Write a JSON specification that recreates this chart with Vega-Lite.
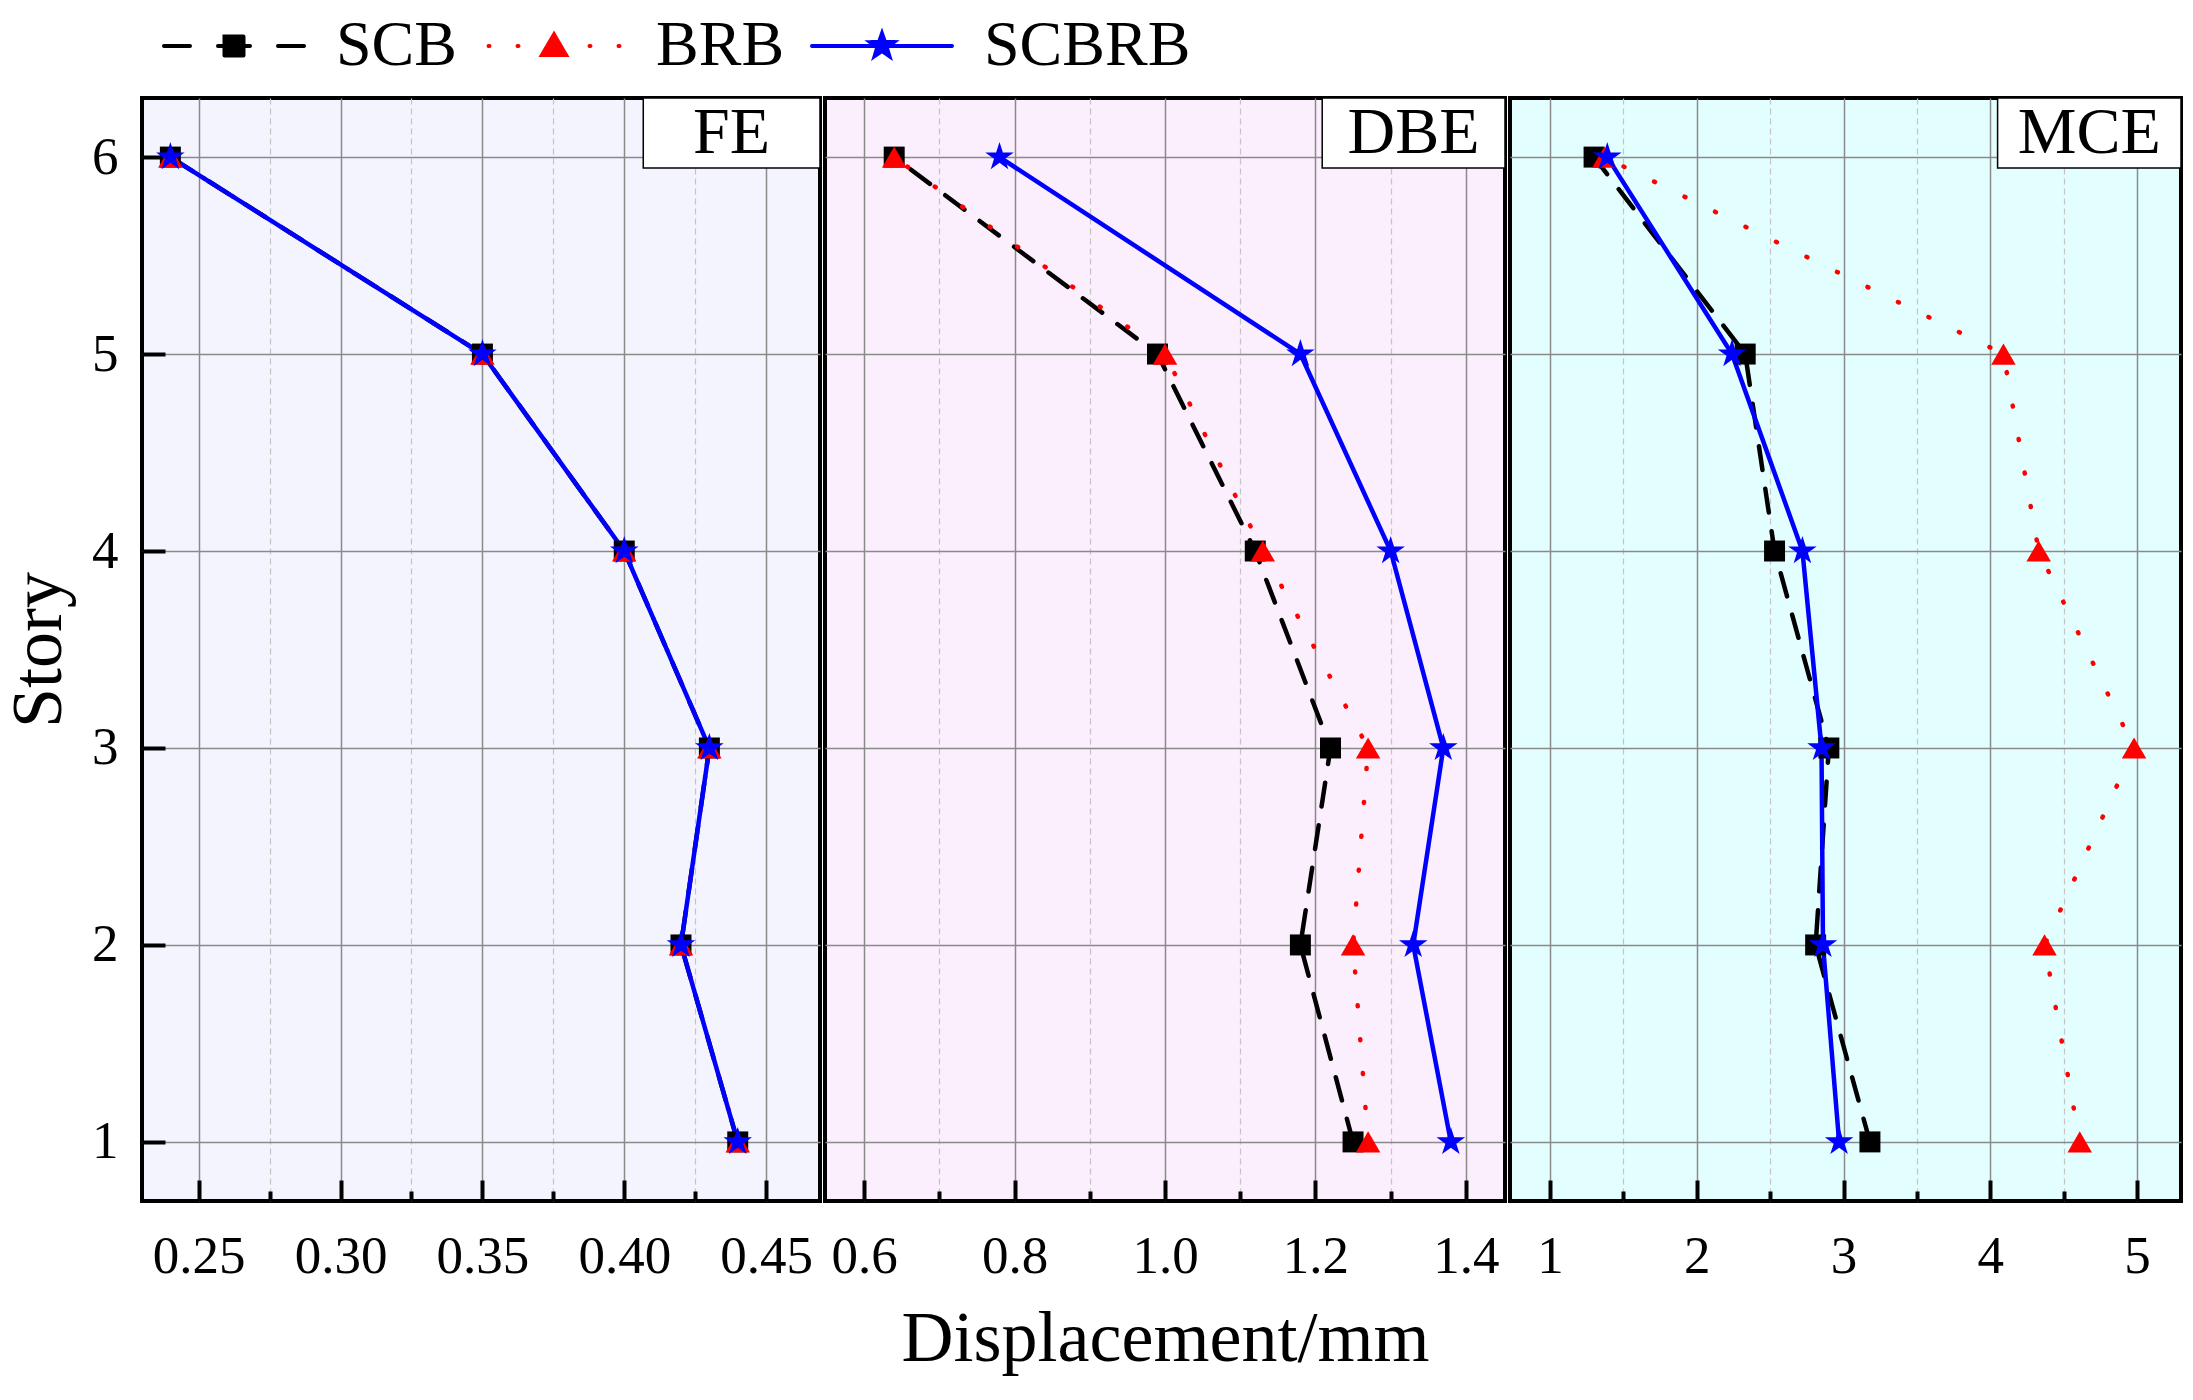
{
  "$schema": "https://vega.github.io/schema/vega-lite/v6.json",
  "background": "white",
  "padding": {"top": 14, "left": 0, "right": 20, "bottom": 10},
  "config": {
    "font": "Liberation Serif",
    "view": {"stroke": "black", "strokeWidth": 4},
    "axis": {
      "labelFont": "Liberation Serif",
      "labelFontSize": 53,
      "labelColor": "black",
      "titleFont": "Liberation Serif",
      "titleFontSize": 72,
      "titleFontWeight": "normal",
      "titleColor": "black",
      "gridColor": "#8a8a8a",
      "gridWidth": 1.5,
      "tickColor": "black",
      "tickWidth": 4,
      "domain": false,
      "labelFlush": false,
      "labelOverlap": false
    },
    "legend": {
      "labelFont": "Liberation Serif",
      "labelFontSize": 64,
      "labelColor": "black",
      "labelLimit": 0
    }
  },
  "data": {
    "values": [
      {"panel": "FE", "series": "SCB", "story": 6, "disp": 0.24},
      {"panel": "FE", "series": "SCB", "story": 5, "disp": 0.35},
      {"panel": "FE", "series": "SCB", "story": 4, "disp": 0.40},
      {"panel": "FE", "series": "SCB", "story": 3, "disp": 0.43},
      {"panel": "FE", "series": "SCB", "story": 2, "disp": 0.42},
      {"panel": "FE", "series": "SCB", "story": 1, "disp": 0.44},
      {"panel": "FE", "series": "BRB", "story": 6, "disp": 0.24},
      {"panel": "FE", "series": "BRB", "story": 5, "disp": 0.35},
      {"panel": "FE", "series": "BRB", "story": 4, "disp": 0.40},
      {"panel": "FE", "series": "BRB", "story": 3, "disp": 0.43},
      {"panel": "FE", "series": "BRB", "story": 2, "disp": 0.42},
      {"panel": "FE", "series": "BRB", "story": 1, "disp": 0.44},
      {"panel": "FE", "series": "SCBRB", "story": 6, "disp": 0.24},
      {"panel": "FE", "series": "SCBRB", "story": 5, "disp": 0.35},
      {"panel": "FE", "series": "SCBRB", "story": 4, "disp": 0.40},
      {"panel": "FE", "series": "SCBRB", "story": 3, "disp": 0.43},
      {"panel": "FE", "series": "SCBRB", "story": 2, "disp": 0.42},
      {"panel": "FE", "series": "SCBRB", "story": 1, "disp": 0.44},
      {"panel": "DBE", "series": "SCB", "story": 6, "disp": 0.64},
      {"panel": "DBE", "series": "SCB", "story": 5, "disp": 0.99},
      {"panel": "DBE", "series": "SCB", "story": 4, "disp": 1.12},
      {"panel": "DBE", "series": "SCB", "story": 3, "disp": 1.22},
      {"panel": "DBE", "series": "SCB", "story": 2, "disp": 1.18},
      {"panel": "DBE", "series": "SCB", "story": 1, "disp": 1.25},
      {"panel": "DBE", "series": "BRB", "story": 6, "disp": 0.64},
      {"panel": "DBE", "series": "BRB", "story": 5, "disp": 1.00},
      {"panel": "DBE", "series": "BRB", "story": 4, "disp": 1.13},
      {"panel": "DBE", "series": "BRB", "story": 3, "disp": 1.27},
      {"panel": "DBE", "series": "BRB", "story": 2, "disp": 1.25},
      {"panel": "DBE", "series": "BRB", "story": 1, "disp": 1.27},
      {"panel": "DBE", "series": "SCBRB", "story": 6, "disp": 0.78},
      {"panel": "DBE", "series": "SCBRB", "story": 5, "disp": 1.18},
      {"panel": "DBE", "series": "SCBRB", "story": 4, "disp": 1.30},
      {"panel": "DBE", "series": "SCBRB", "story": 3, "disp": 1.37},
      {"panel": "DBE", "series": "SCBRB", "story": 2, "disp": 1.33},
      {"panel": "DBE", "series": "SCBRB", "story": 1, "disp": 1.38},
      {"panel": "MCE", "series": "SCB", "story": 6, "disp": 1.30},
      {"panel": "MCE", "series": "SCB", "story": 5, "disp": 2.33},
      {"panel": "MCE", "series": "SCB", "story": 4, "disp": 2.53},
      {"panel": "MCE", "series": "SCB", "story": 3, "disp": 2.90},
      {"panel": "MCE", "series": "SCB", "story": 2, "disp": 2.81},
      {"panel": "MCE", "series": "SCB", "story": 1, "disp": 3.18},
      {"panel": "MCE", "series": "BRB", "story": 6, "disp": 1.37},
      {"panel": "MCE", "series": "BRB", "story": 5, "disp": 4.09},
      {"panel": "MCE", "series": "BRB", "story": 4, "disp": 4.33},
      {"panel": "MCE", "series": "BRB", "story": 3, "disp": 4.98},
      {"panel": "MCE", "series": "BRB", "story": 2, "disp": 4.37},
      {"panel": "MCE", "series": "BRB", "story": 1, "disp": 4.61},
      {"panel": "MCE", "series": "SCBRB", "story": 6, "disp": 1.39},
      {"panel": "MCE", "series": "SCBRB", "story": 5, "disp": 2.24},
      {"panel": "MCE", "series": "SCBRB", "story": 4, "disp": 2.72},
      {"panel": "MCE", "series": "SCBRB", "story": 3, "disp": 2.85},
      {"panel": "MCE", "series": "SCBRB", "story": 2, "disp": 2.86},
      {"panel": "MCE", "series": "SCBRB", "story": 1, "disp": 2.97}
    ]
  },
  "spacing": 0,
  "hconcat": [
    {
      "width": 678,
      "height": 1103,
      "view": {"fill": "#f3f4fe", "stroke": "black", "strokeWidth": 4},
      "layer": [
        {"transform": [{"filter": "datum.panel === 'FE' && datum.series === 'SCB'"}],
         "mark": {"type": "line", "strokeWidth": 4.5, "strokeDash": [24, 19], "strokeCap": "round"},
         "encoding": {
           "x": {"field": "disp", "type": "quantitative", "scale": {"domain": [0.23, 0.469], "nice": false, "zero": false},
                 "axis": {"orient": "bottom", "values": [0.25, 0.3, 0.35, 0.4, 0.45], "format": ".2f", "tickSize": -21, "labelPadding": 50, "grid": true, "title": null}},
           "y": {"field": "story", "type": "quantitative", "scale": {"domain": [0.7, 6.3], "nice": false, "zero": false},
                 "axis": {"values": [1, 2, 3, 4, 5, 6], "format": "d", "tickSize": -23, "labelPadding": 47, "titlePadding": 16, "grid": true, "title": "Story"}},
           "order": {"field": "story"},
           "color": {"field": "series", "type": "nominal", "scale": {"domain": ["SCB", "BRB", "SCBRB"], "range": ["black", "red", "blue"]},
                     "legend": {"orient": "top", "direction": "horizontal", "title": null, "offset": 17, "symbolSize": 400, "symbolStrokeWidth": 4, "labelOffset": 130, "columnPadding": 5, "labelLimit": 0,
                       "encode": {"symbols": {"update": {
                         "shape": {"signal": "datum.value === 'SCB' ? 'M-1,0L1.6,0M4.4,0L7.6,0M10.4,0L13,0M5.05,-0.95L6.95,-0.95L6.95,0.95L5.05,0.95Z' : datum.value === 'BRB' ? 'M-0.55,0L-0.45,0M2.35,0L2.45,0M9.55,0L9.65,0M12.45,0L12.55,0M6,-1.15L7.2,0.9L4.8,0.9Z' : 'M-1,0L13,0M6,-1.25L6.294,-0.405L7.189,-0.386L6.476,0.155L6.735,1.011L6,0.5L5.265,1.011L5.524,0.155L4.811,-0.386L5.706,-0.405Z'"},
                         "fill": {"signal": "datum.value === 'SCB' ? 'black' : datum.value === 'BRB' ? 'red' : 'blue'"},
                         "stroke": {"signal": "datum.value === 'SCB' ? 'black' : datum.value === 'BRB' ? 'red' : 'blue'"},
                         "strokeDash": {"value": [1, 0]},
                         "strokeCap": {"value": "round"},
                         "opacity": {"value": 1}
                       }}}}}}},
        {"transform": [{"filter": "datum.panel === 'FE' && datum.series === 'BRB'"}],
         "mark": {"type": "line", "strokeWidth": 4.5, "strokeDash": [1, 33], "strokeCap": "round"},
         "encoding": {
           "x": {"field": "disp", "type": "quantitative", "axis": null},
           "y": {"field": "story", "type": "quantitative", "scale": {"domain": [0.7, 6.3], "nice": false, "zero": false},
                 "axis": {"values": [1, 2, 3, 4, 5, 6], "format": "d", "tickSize": -23, "labelPadding": 47, "titlePadding": 16, "grid": true, "title": "Story"}},
           "order": {"field": "story"}, "color": {"field": "series", "type": "nominal"}}},
        {"transform": [{"filter": "datum.panel === 'FE' && datum.series === 'SCBRB'"}],
         "mark": {"type": "line", "strokeWidth": 4.5, "strokeCap": "round"},
         "encoding": {
           "x": {"field": "disp", "type": "quantitative", "axis": null},
           "y": {"field": "story", "type": "quantitative", "scale": {"domain": [0.7, 6.3], "nice": false, "zero": false},
                 "axis": {"values": [1, 2, 3, 4, 5, 6], "format": "d", "tickSize": -23, "labelPadding": 47, "titlePadding": 16, "grid": true, "title": "Story"}},
           "order": {"field": "story"}, "color": {"field": "series", "type": "nominal"}}},
        {"transform": [{"filter": "datum.panel === 'FE' && datum.series === 'SCB'"}],
         "mark": {"type": "point", "shape": "square", "size": 440, "filled": true, "color": "black", "opacity": 1},
         "encoding": {
           "x": {"field": "disp", "type": "quantitative", "axis": null},
           "y": {"field": "story", "type": "quantitative", "scale": {"domain": [0.7, 6.3], "nice": false, "zero": false},
                 "axis": {"values": [1, 2, 3, 4, 5, 6], "format": "d", "tickSize": -23, "labelPadding": 47, "titlePadding": 16, "grid": true, "title": "Story"}}}},
        {"transform": [{"filter": "datum.panel === 'FE' && datum.series === 'BRB'"}],
         "mark": {"type": "point", "shape": "triangle-up", "size": 600, "filled": true, "color": "red", "opacity": 1},
         "encoding": {
           "x": {"field": "disp", "type": "quantitative", "axis": null},
           "y": {"field": "story", "type": "quantitative", "scale": {"domain": [0.7, 6.3], "nice": false, "zero": false},
                 "axis": {"values": [1, 2, 3, 4, 5, 6], "format": "d", "tickSize": -23, "labelPadding": 47, "titlePadding": 16, "grid": true, "title": "Story"}}}},
        {"transform": [{"filter": "datum.panel === 'FE' && datum.series === 'SCBRB'"}],
         "mark": {"type": "point", "shape": "M0,-1L0.2245,-0.309L0.951,-0.309L0.3633,0.118L0.5878,0.809L0,0.382L-0.5878,0.809L-0.3633,0.118L-0.951,-0.309L-0.2245,-0.309Z", "size": 900, "filled": true, "color": "blue", "opacity": 1},
         "encoding": {
           "x": {"field": "disp", "type": "quantitative", "axis": null},
           "y": {"field": "story", "type": "quantitative", "scale": {"domain": [0.7, 6.3], "nice": false, "zero": false},
                 "axis": {"values": [1, 2, 3, 4, 5, 6], "format": "d", "tickSize": -23, "labelPadding": 47, "titlePadding": 16, "grid": true, "title": "Story"}}}},
        {"data": {"values": [{"label": "FE"}]},
         "mark": {"type": "rect", "fill": "white", "stroke": "black", "strokeWidth": 1.5},
         "encoding": {
           "x": {"datum": 0.4067, "type": "quantitative",
                 "axis": {"orient": "bottom", "values": [0.275, 0.325, 0.375, 0.425], "labels": false, "tickSize": -10, "grid": true, "gridDash": [6, 4], "gridColor": "#c4c4c4", "gridWidth": 1.2, "title": null}},
           "x2": {"datum": 0.469},
           "y": {"datum": 6.3, "type": "quantitative", "scale": {"domain": [0.7, 6.3], "nice": false, "zero": false},
                 "axis": {"values": [1, 2, 3, 4, 5, 6], "format": "d", "tickSize": -23, "labelPadding": 47, "titlePadding": 16, "grid": true, "title": "Story"}},
           "y2": {"datum": 5.944}}},
        {"data": {"values": [{"label": "FE"}]},
         "mark": {"type": "text", "font": "Liberation Serif", "fontSize": 66, "baseline": "middle", "align": "center", "color": "black"},
         "encoding": {
           "x": {"datum": 0.4378, "type": "quantitative", "axis": null},
           "y": {"datum": 6.12, "type": "quantitative", "scale": {"domain": [0.7, 6.3], "nice": false, "zero": false},
                 "axis": {"values": [1, 2, 3, 4, 5, 6], "format": "d", "tickSize": -23, "labelPadding": 47, "titlePadding": 16, "grid": true, "title": "Story"}},
           "text": {"field": "label"}}}
      ],
      "resolve": {"axis": {"x": "independent"}}
    },
    {
      "width": 680,
      "height": 1103,
      "view": {"fill": "#fbeefd", "stroke": "black", "strokeWidth": 4},
      "layer": [
        {"transform": [{"filter": "datum.panel === 'DBE' && datum.series === 'SCB'"}],
         "mark": {"type": "line", "strokeWidth": 4.5, "strokeDash": [24, 19], "strokeCap": "round"},
         "encoding": {
           "x": {"field": "disp", "type": "quantitative", "scale": {"domain": [0.548, 1.452], "nice": false, "zero": false},
                 "axis": {"orient": "bottom", "values": [0.6, 0.8, 1.0, 1.2, 1.4], "format": ".1f", "tickSize": -21, "labelPadding": 50, "grid": true, "title": "Displacement/mm", "titlePadding": 20}},
           "y": {"field": "story", "type": "quantitative", "scale": {"domain": [0.7, 6.3], "nice": false, "zero": false},
                 "axis": {"values": [1, 2, 3, 4, 5, 6], "labels": false, "ticks": false, "grid": true, "title": null}},
           "order": {"field": "story"}, "color": {"field": "series", "type": "nominal"}}},
        {"transform": [{"filter": "datum.panel === 'DBE' && datum.series === 'BRB'"}],
         "mark": {"type": "line", "strokeWidth": 4.5, "strokeDash": [1, 33], "strokeCap": "round"},
         "encoding": {
           "x": {"field": "disp", "type": "quantitative", "axis": null},
           "y": {"field": "story", "type": "quantitative", "scale": {"domain": [0.7, 6.3], "nice": false, "zero": false},
                 "axis": {"values": [1, 2, 3, 4, 5, 6], "labels": false, "ticks": false, "grid": true, "title": null}},
           "order": {"field": "story"}, "color": {"field": "series", "type": "nominal"}}},
        {"transform": [{"filter": "datum.panel === 'DBE' && datum.series === 'SCBRB'"}],
         "mark": {"type": "line", "strokeWidth": 4.5, "strokeCap": "round"},
         "encoding": {
           "x": {"field": "disp", "type": "quantitative", "axis": null},
           "y": {"field": "story", "type": "quantitative", "scale": {"domain": [0.7, 6.3], "nice": false, "zero": false},
                 "axis": {"values": [1, 2, 3, 4, 5, 6], "labels": false, "ticks": false, "grid": true, "title": null}},
           "order": {"field": "story"}, "color": {"field": "series", "type": "nominal"}}},
        {"transform": [{"filter": "datum.panel === 'DBE' && datum.series === 'SCB'"}],
         "mark": {"type": "point", "shape": "square", "size": 440, "filled": true, "color": "black", "opacity": 1},
         "encoding": {
           "x": {"field": "disp", "type": "quantitative", "axis": null},
           "y": {"field": "story", "type": "quantitative", "scale": {"domain": [0.7, 6.3], "nice": false, "zero": false},
                 "axis": {"values": [1, 2, 3, 4, 5, 6], "labels": false, "ticks": false, "grid": true, "title": null}}}},
        {"transform": [{"filter": "datum.panel === 'DBE' && datum.series === 'BRB'"}],
         "mark": {"type": "point", "shape": "triangle-up", "size": 600, "filled": true, "color": "red", "opacity": 1},
         "encoding": {
           "x": {"field": "disp", "type": "quantitative", "axis": null},
           "y": {"field": "story", "type": "quantitative", "scale": {"domain": [0.7, 6.3], "nice": false, "zero": false},
                 "axis": {"values": [1, 2, 3, 4, 5, 6], "labels": false, "ticks": false, "grid": true, "title": null}}}},
        {"transform": [{"filter": "datum.panel === 'DBE' && datum.series === 'SCBRB'"}],
         "mark": {"type": "point", "shape": "M0,-1L0.2245,-0.309L0.951,-0.309L0.3633,0.118L0.5878,0.809L0,0.382L-0.5878,0.809L-0.3633,0.118L-0.951,-0.309L-0.2245,-0.309Z", "size": 900, "filled": true, "color": "blue", "opacity": 1},
         "encoding": {
           "x": {"field": "disp", "type": "quantitative", "axis": null},
           "y": {"field": "story", "type": "quantitative", "scale": {"domain": [0.7, 6.3], "nice": false, "zero": false},
                 "axis": {"values": [1, 2, 3, 4, 5, 6], "labels": false, "ticks": false, "grid": true, "title": null}}}},
        {"data": {"values": [{"label": "DBE"}]},
         "mark": {"type": "rect", "fill": "white", "stroke": "black", "strokeWidth": 1.5},
         "encoding": {
           "x": {"datum": 1.209, "type": "quantitative",
                 "axis": {"orient": "bottom", "values": [0.7, 0.9, 1.1, 1.3], "labels": false, "tickSize": -10, "grid": true, "gridDash": [6, 4], "gridColor": "#c4c4c4", "gridWidth": 1.2, "title": null}},
           "x2": {"datum": 1.452},
           "y": {"datum": 6.3, "type": "quantitative", "scale": {"domain": [0.7, 6.3], "nice": false, "zero": false},
                 "axis": {"values": [1, 2, 3, 4, 5, 6], "labels": false, "ticks": false, "grid": true, "title": null}},
           "y2": {"datum": 5.944}}},
        {"data": {"values": [{"label": "DBE"}]},
         "mark": {"type": "text", "font": "Liberation Serif", "fontSize": 66, "baseline": "middle", "align": "center", "color": "black"},
         "encoding": {
           "x": {"datum": 1.3305, "type": "quantitative", "axis": null},
           "y": {"datum": 6.12, "type": "quantitative", "scale": {"domain": [0.7, 6.3], "nice": false, "zero": false},
                 "axis": {"values": [1, 2, 3, 4, 5, 6], "labels": false, "ticks": false, "grid": true, "title": null}},
           "text": {"field": "label"}}}
      ],
      "resolve": {"axis": {"x": "independent"}}
    },
    {
      "width": 671,
      "height": 1103,
      "view": {"fill": "#e3fefe", "stroke": "black", "strokeWidth": 4},
      "layer": [
        {"transform": [{"filter": "datum.panel === 'MCE' && datum.series === 'SCB'"}],
         "mark": {"type": "line", "strokeWidth": 4.5, "strokeDash": [24, 19], "strokeCap": "round"},
         "encoding": {
           "x": {"field": "disp", "type": "quantitative", "scale": {"domain": [0.727, 5.3], "nice": false, "zero": false},
                 "axis": {"orient": "bottom", "values": [1, 2, 3, 4, 5], "format": "d", "tickSize": -21, "labelPadding": 50, "grid": true, "title": null}},
           "y": {"field": "story", "type": "quantitative", "scale": {"domain": [0.7, 6.3], "nice": false, "zero": false},
                 "axis": {"values": [1, 2, 3, 4, 5, 6], "labels": false, "ticks": false, "grid": true, "title": null}},
           "order": {"field": "story"}, "color": {"field": "series", "type": "nominal"}}},
        {"transform": [{"filter": "datum.panel === 'MCE' && datum.series === 'BRB'"}],
         "mark": {"type": "line", "strokeWidth": 4.5, "strokeDash": [1, 33], "strokeCap": "round"},
         "encoding": {
           "x": {"field": "disp", "type": "quantitative", "axis": null},
           "y": {"field": "story", "type": "quantitative", "scale": {"domain": [0.7, 6.3], "nice": false, "zero": false},
                 "axis": {"values": [1, 2, 3, 4, 5, 6], "labels": false, "ticks": false, "grid": true, "title": null}},
           "order": {"field": "story"}, "color": {"field": "series", "type": "nominal"}}},
        {"transform": [{"filter": "datum.panel === 'MCE' && datum.series === 'SCBRB'"}],
         "mark": {"type": "line", "strokeWidth": 4.5, "strokeCap": "round"},
         "encoding": {
           "x": {"field": "disp", "type": "quantitative", "axis": null},
           "y": {"field": "story", "type": "quantitative", "scale": {"domain": [0.7, 6.3], "nice": false, "zero": false},
                 "axis": {"values": [1, 2, 3, 4, 5, 6], "labels": false, "ticks": false, "grid": true, "title": null}},
           "order": {"field": "story"}, "color": {"field": "series", "type": "nominal"}}},
        {"transform": [{"filter": "datum.panel === 'MCE' && datum.series === 'SCB'"}],
         "mark": {"type": "point", "shape": "square", "size": 440, "filled": true, "color": "black", "opacity": 1},
         "encoding": {
           "x": {"field": "disp", "type": "quantitative", "axis": null},
           "y": {"field": "story", "type": "quantitative", "scale": {"domain": [0.7, 6.3], "nice": false, "zero": false},
                 "axis": {"values": [1, 2, 3, 4, 5, 6], "labels": false, "ticks": false, "grid": true, "title": null}}}},
        {"transform": [{"filter": "datum.panel === 'MCE' && datum.series === 'BRB'"}],
         "mark": {"type": "point", "shape": "triangle-up", "size": 600, "filled": true, "color": "red", "opacity": 1},
         "encoding": {
           "x": {"field": "disp", "type": "quantitative", "axis": null},
           "y": {"field": "story", "type": "quantitative", "scale": {"domain": [0.7, 6.3], "nice": false, "zero": false},
                 "axis": {"values": [1, 2, 3, 4, 5, 6], "labels": false, "ticks": false, "grid": true, "title": null}}}},
        {"transform": [{"filter": "datum.panel === 'MCE' && datum.series === 'SCBRB'"}],
         "mark": {"type": "point", "shape": "M0,-1L0.2245,-0.309L0.951,-0.309L0.3633,0.118L0.5878,0.809L0,0.382L-0.5878,0.809L-0.3633,0.118L-0.951,-0.309L-0.2245,-0.309Z", "size": 900, "filled": true, "color": "blue", "opacity": 1},
         "encoding": {
           "x": {"field": "disp", "type": "quantitative", "axis": null},
           "y": {"field": "story", "type": "quantitative", "scale": {"domain": [0.7, 6.3], "nice": false, "zero": false},
                 "axis": {"values": [1, 2, 3, 4, 5, 6], "labels": false, "ticks": false, "grid": true, "title": null}}}},
        {"data": {"values": [{"label": "MCE"}]},
         "mark": {"type": "rect", "fill": "white", "stroke": "black", "strokeWidth": 1.5},
         "encoding": {
           "x": {"datum": 4.05, "type": "quantitative",
                 "axis": {"orient": "bottom", "values": [1.5, 2.5, 3.5, 4.5], "labels": false, "tickSize": -10, "grid": true, "gridDash": [6, 4], "gridColor": "#c4c4c4", "gridWidth": 1.2, "title": null}},
           "x2": {"datum": 5.3},
           "y": {"datum": 6.3, "type": "quantitative", "scale": {"domain": [0.7, 6.3], "nice": false, "zero": false},
                 "axis": {"values": [1, 2, 3, 4, 5, 6], "labels": false, "ticks": false, "grid": true, "title": null}},
           "y2": {"datum": 5.944}}},
        {"data": {"values": [{"label": "MCE"}]},
         "mark": {"type": "text", "font": "Liberation Serif", "fontSize": 66, "baseline": "middle", "align": "center", "color": "black"},
         "encoding": {
           "x": {"datum": 4.675, "type": "quantitative", "axis": null},
           "y": {"datum": 6.12, "type": "quantitative", "scale": {"domain": [0.7, 6.3], "nice": false, "zero": false},
                 "axis": {"values": [1, 2, 3, 4, 5, 6], "labels": false, "ticks": false, "grid": true, "title": null}},
           "text": {"field": "label"}}}
      ],
      "resolve": {"axis": {"x": "independent"}}
    }
  ],
  "resolve": {"scale": {"x": "independent", "y": "independent", "color": "shared"}}
}
